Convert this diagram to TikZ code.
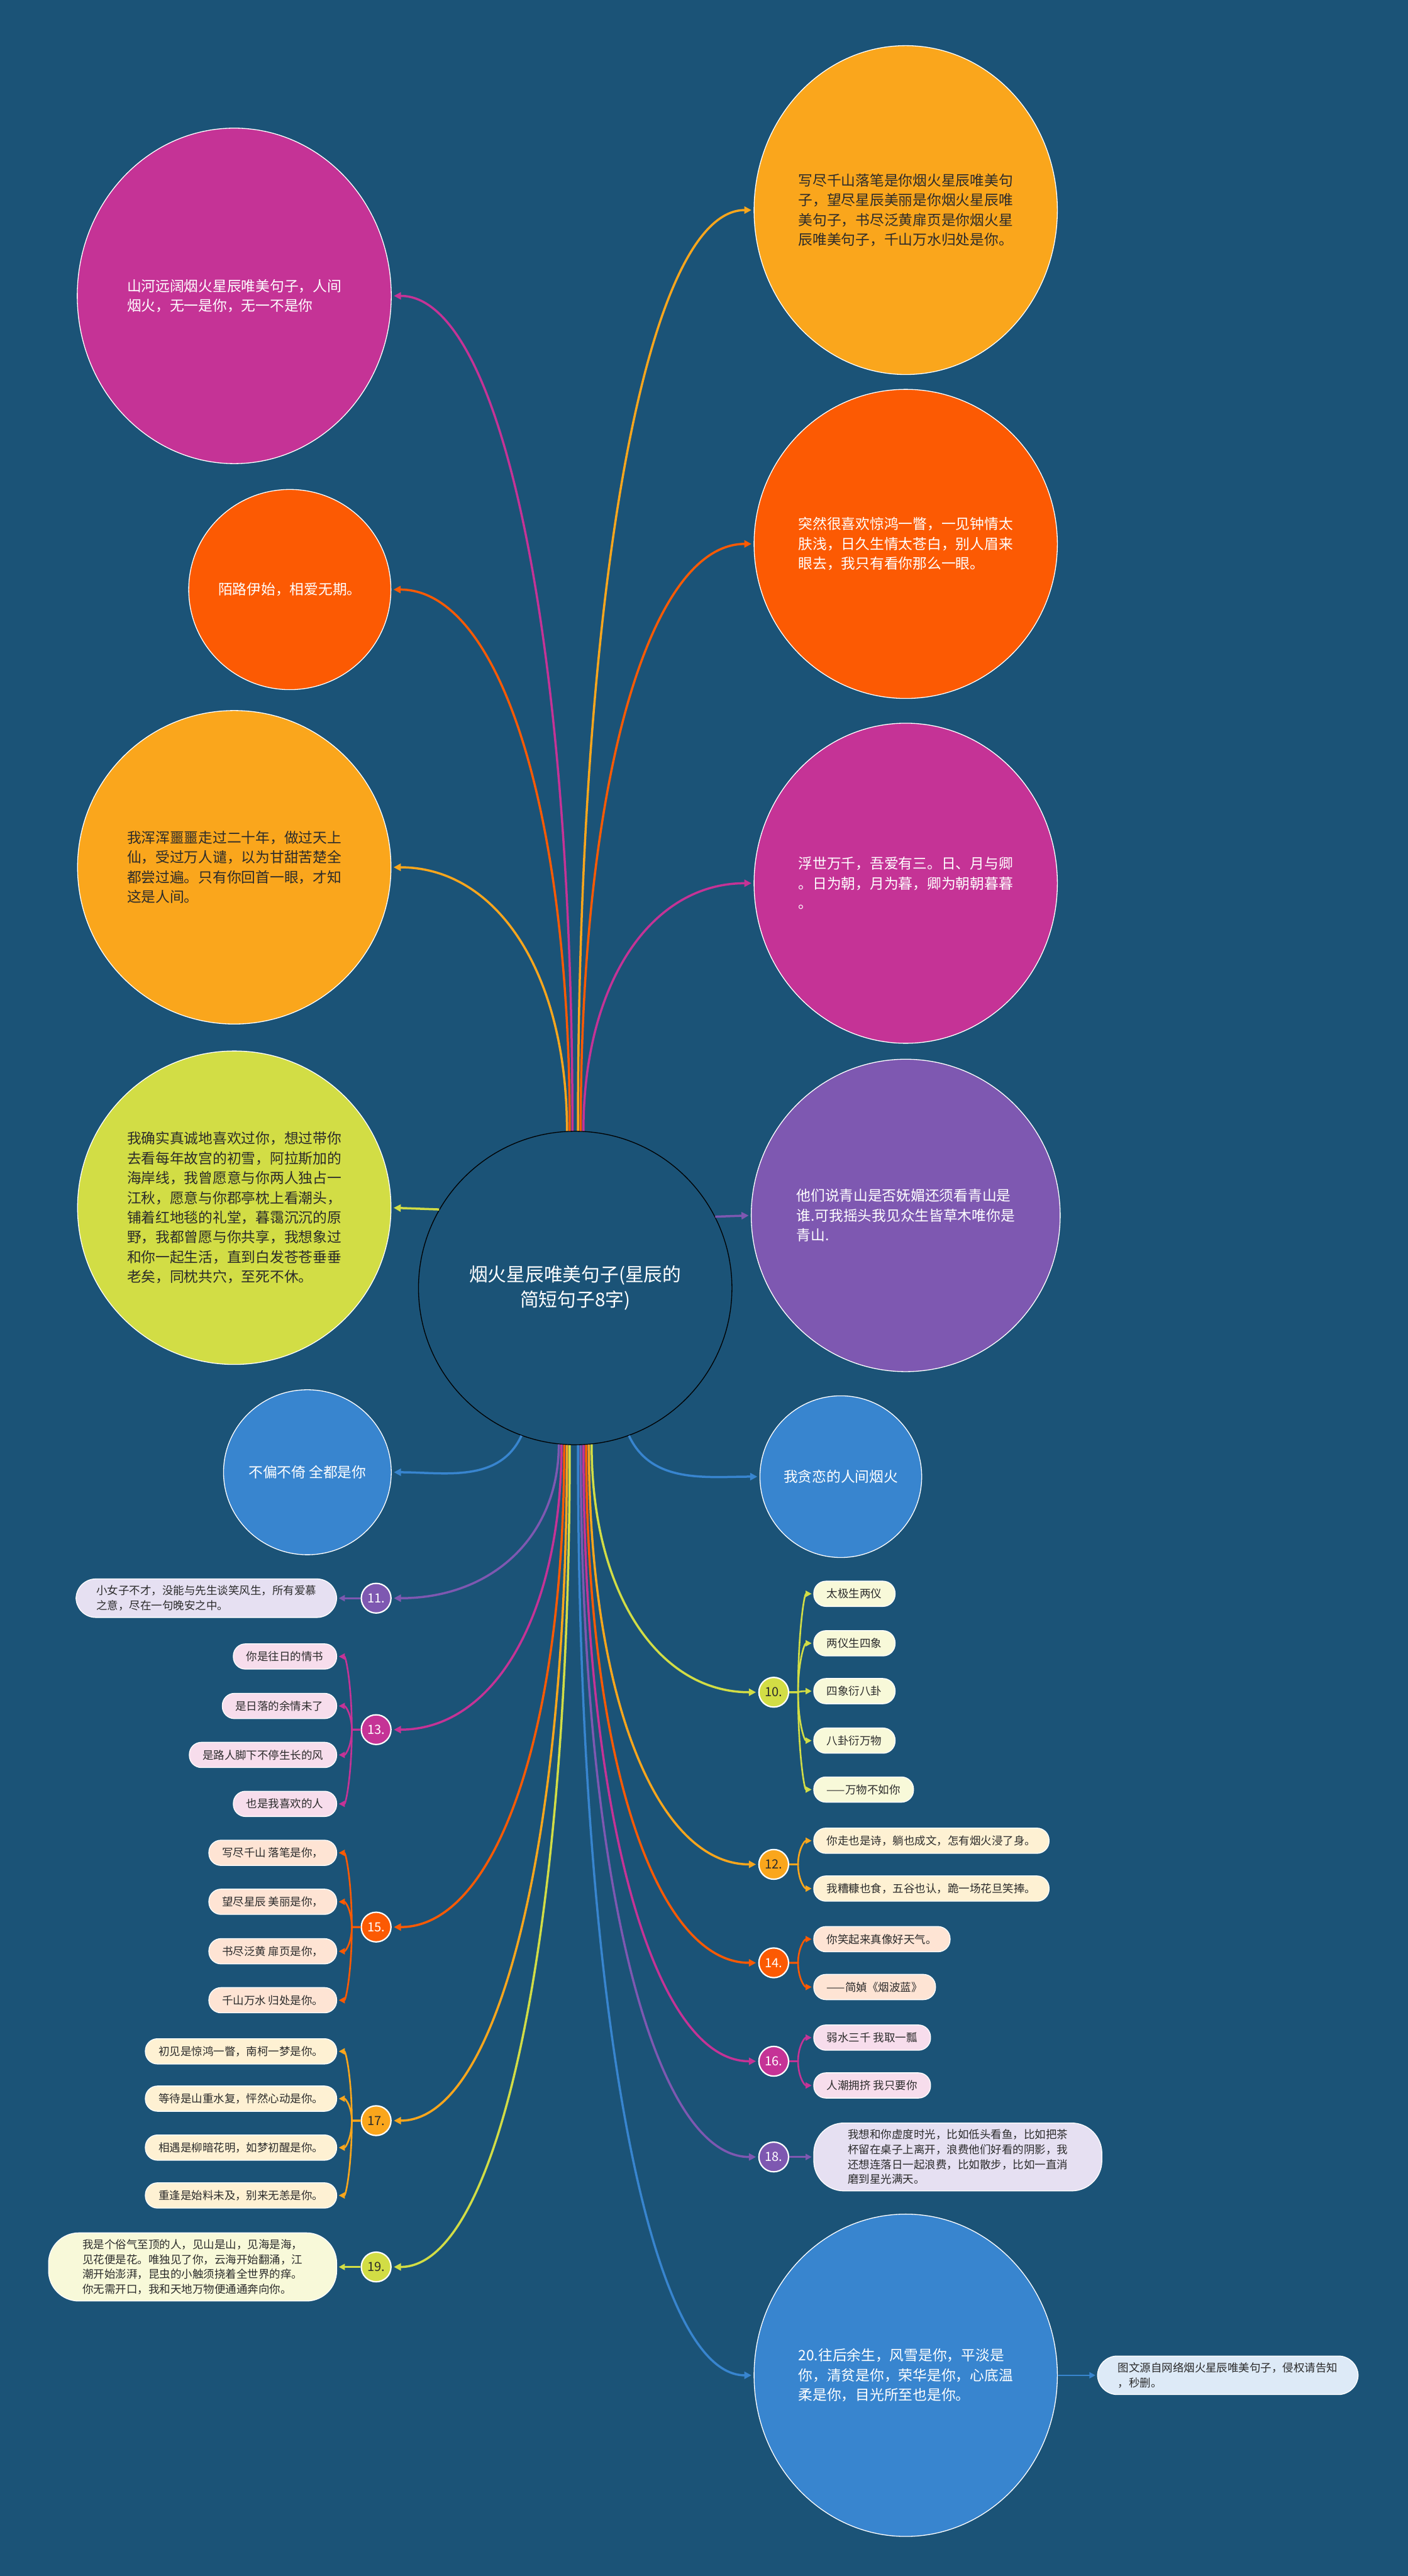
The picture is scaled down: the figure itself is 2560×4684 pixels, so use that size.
\documentclass[tikz,border=0pt]{standalone}
\usepackage{fontspec}
\setmainfont{Noto Sans CJK SC}
\usetikzlibrary{shapes.geometric,arrows.meta,calc}
\definecolor{bg}{HTML}{1B5377}
\definecolor{mag}{HTML}{C53396}
\definecolor{yel}{HTML}{FAA61C}
\definecolor{org}{HTML}{FC5A03}
\definecolor{lim}{HTML}{D2DD45}
\definecolor{pur}{HTML}{7E58B1}
\definecolor{blu}{HTML}{3885CF}
\definecolor{dk}{HTML}{2B2B2B}
\definecolor{lpur}{HTML}{E6E0F2}
\definecolor{lmag}{HTML}{F7DDEC}
\definecolor{lorg}{HTML}{FEE4D4}
\definecolor{lyel}{HTML}{FEF1D3}
\definecolor{llim}{HTML}{F8F9D9}
\definecolor{lblu}{HTML}{DDEAF7}
\newcommand\myelbow[3]{\draw[#1] (#2) .. controls ($(#2)!0.6!(#2 |- #3)$) and ($(#3)!0.6!(#2 |- #3)$) .. (#3);}
\newcommand\mysub[4]{\draw[sub=#1] (#2) -- (#3) .. controls ($(#3)!0.6!(#3 |- #4)$) and ($(#4)!0.6!(#3 |- #4)$) .. (#4);}
\begin{document}
\begin{tikzpicture}[x=1pt,y=1pt,
 big/.style={ellipse, draw=white, line width=1.5pt, inner sep=0pt, align=left, font=\fontsize{26}{36}\selectfont},
 num/.style={circle, draw=white, line width=2.5pt, minimum size=54pt, inner sep=0pt, font=\fontsize{23}{23}\selectfont},
 leaf/.style={rectangle, rounded corners=22pt, draw=white, line width=1.5pt, inner xsep=24pt, inner ysep=12pt, minimum height=46pt, align=left, text=dk, font=\fontsize{20}{27}\selectfont},
 leaf2/.style={leaf, rounded corners=36pt, inner xsep=37pt},
 leaf4/.style={leaf, rounded corners=55pt, inner xsep=62pt},
 conn/.style={draw=#1, line width=4pt, -{Triangle[length=13pt,width=13pt]}, shorten >=4pt},
 sub/.style={draw=#1, line width=3pt, -{Triangle[length=11pt,width=11pt]}, shorten >=3pt},
]
\useasboundingbox (0,0) rectangle (2560,-4684);
\fill[bg] (0,0) rectangle (2560,-4684);

% centre
\node[circle, draw=black, fill=bg, line width=1.5pt, minimum size=570pt, inner sep=0pt, text=white, align=center, font=\fontsize{34}{46}\selectfont] (ctr) at (1046,-2342) {烟火星辰唯美句子(星辰的\\简短句子8字)};

% big circles left
\node[big, fill=mag, text=white, minimum width=571pt, minimum height=610pt] (A) at (426,-538) {山河远阔烟火星辰唯美句子，人间\\烟火，无一是你，无一不是你};
\node[big, fill=org, text=white, minimum width=362pt, minimum height=364pt] (B) at (527,-1072) {陌路伊始，相爱无期。};
\node[big, fill=yel, text=dk, minimum width=570pt, minimum height=570pt] (C) at (426,-1577) {我浑浑噩噩走过二十年，做过天上\\仙，受过万人谴，以为甘甜苦楚全\\都尝过遍。只有你回首一眼，才知\\这是人间。};
\node[big, fill=lim, text=dk, minimum width=570pt, minimum height=570pt] (D) at (426,-2196) {我确实真诚地喜欢过你，想过带你\\去看每年故宫的初雪，阿拉斯加的\\海岸线，我曾愿意与你两人独占一\\江秋，愿意与你郡亭枕上看潮头，\\铺着红地毯的礼堂，暮霭沉沉的原\\野，我都曾愿与你共享，我想象过\\和你一起生活，直到白发苍苍垂垂\\老矣，同枕共穴，至死不休。};
\node[big, fill=blu, text=white, minimum width=305pt, minimum height=300pt] (E) at (559,-2677) {不偏不倚 全都是你};

% big circles right
\node[big, fill=yel, text=dk, minimum width=530pt, minimum height=598pt] (F) at (1647,-382) {写尽千山落笔是你烟火星辰唯美句\\子，望尽星辰美丽是你烟火星辰唯\\美句子，书尽泛黄扉页是你烟火星\\辰唯美句子，千山万水归处是你。};
\node[big, fill=org, text=white, minimum width=530pt, minimum height=562pt] (G) at (1647,-989) {突然很喜欢惊鸿一瞥，一见钟情太\\肤浅，日久生情太苍白，别人眉来\\眼去，我只有看你那么一眼。};
\node[big, fill=mag, text=white, minimum width=530pt, minimum height=582pt] (H) at (1647,-1606) {浮世万千，吾爱有三。日、月与卿\\。日为朝，月为暮，卿为朝朝暮暮\\。};
\node[big, fill=pur, text=white, minimum width=530pt, minimum height=568pt] (I) at (1647,-2210) {他们说青山是否妩媚还须看青山是\\谁.可我摇头我见众生皆草木唯你是\\青山.};
\node[big, fill=blu, text=white, minimum width=294pt, minimum height=294pt] (J) at (1529,-2685) {我贪恋的人间烟火};
\node[big, fill=blu, text=white, minimum width=530pt, minimum height=586pt] (K) at (1647,-4319) {20.往后余生，风雪是你，平淡是\\你，清贫是你，荣华是你，心底温\\柔是你，目光所至也是你。};

% numbered circles
\node[num, fill=pur, text=white] (n11) at (684,-2906) {11.};
\node[num, fill=mag, text=white] (n13) at (684,-3145) {13.};
\node[num, fill=org, text=white] (n15) at (684,-3504) {15.};
\node[num, fill=yel, text=dk] (n17) at (684,-3856) {17.};
\node[num, fill=lim, text=dk] (n19) at (684,-4122) {19.};
\node[num, fill=lim, text=dk] (n10) at (1407,-3077) {10.};
\node[num, fill=yel, text=dk] (n12) at (1407,-3390) {12.};
\node[num, fill=org, text=white] (n14) at (1407,-3569) {14.};
\node[num, fill=mag, text=white] (n16) at (1407,-3748) {16.};
\node[num, fill=pur, text=white] (n18) at (1407,-3922) {18.};

% leaves left
\node[leaf2, fill=lpur, anchor=east] (c11) at (613,-2906) {小女子不才，没能与先生谈笑风生，所有爱慕\\之意，尽在一句晚安之中。};
\node[leaf, fill=lmag, anchor=east] (c13a) at (613,-3012) {你是往日的情书};
\node[leaf, fill=lmag, anchor=east] (c13b) at (613,-3102) {是日落的余情未了};
\node[leaf, fill=lmag, anchor=east] (c13c) at (613,-3191) {是路人脚下不停生长的风};
\node[leaf, fill=lmag, anchor=east] (c13d) at (613,-3280) {也是我喜欢的人};
\node[leaf, fill=lorg, anchor=east] (c15a) at (613,-3369) {写尽千山 落笔是你，};
\node[leaf, fill=lorg, anchor=east] (c15b) at (613,-3458) {望尽星辰 美丽是你，};
\node[leaf, fill=lorg, anchor=east] (c15c) at (613,-3548) {书尽泛黄 扉页是你，};
\node[leaf, fill=lorg, anchor=east] (c15d) at (613,-3637) {千山万水 归处是你。};
\node[leaf, fill=lyel, anchor=east] (c17a) at (613,-3730) {初见是惊鸿一瞥，南柯一梦是你。};
\node[leaf, fill=lyel, anchor=east] (c17b) at (613,-3816) {等待是山重水复，怦然心动是你。};
\node[leaf, fill=lyel, anchor=east] (c17c) at (613,-3905) {相遇是柳暗花明，如梦初醒是你。};
\node[leaf, fill=lyel, anchor=east] (c17d) at (613,-3992) {重逢是始料未及，别来无恙是你。};
\node[leaf4, fill=llim, anchor=east] (c19) at (613,-4122) {我是个俗气至顶的人，见山是山，见海是海，\\见花便是花。唯独见了你，云海开始翻涌，江\\潮开始澎湃，昆虫的小触须挠着全世界的痒。\\你无需开口，我和天地万物便通通奔向你。};

% leaves right
\node[leaf, fill=llim, anchor=west] (c10a) at (1479,-2898) {太极生两仪};
\node[leaf, fill=llim, anchor=west] (c10b) at (1479,-2988) {两仪生四象};
\node[leaf, fill=llim, anchor=west] (c10c) at (1479,-3075) {四象衍八卦};
\node[leaf, fill=llim, anchor=west] (c10d) at (1479,-3165) {八卦衍万物};
\node[leaf, fill=llim, anchor=west] (c10e) at (1479,-3254) {——万物不如你};
\node[leaf, fill=lyel, anchor=west] (c12a) at (1479,-3347) {你走也是诗，躺也成文，怎有烟火浸了身。};
\node[leaf, fill=lyel, anchor=west] (c12b) at (1479,-3434) {我糟糠也食，五谷也认，跪一场花旦笑捧。};
\node[leaf, fill=lorg, anchor=west] (c14a) at (1479,-3526) {你笑起来真像好天气。};
\node[leaf, fill=lorg, anchor=west] (c14b) at (1479,-3613) {——简媜《烟波蓝》};
\node[leaf, fill=lmag, anchor=west] (c16a) at (1479,-3705) {弱水三千 我取一瓢};
\node[leaf, fill=lmag, anchor=west] (c16b) at (1479,-3792) {人潮拥挤 我只要你};
\node[leaf4, fill=lpur, anchor=west] (c18) at (1479,-3922) {我想和你虚度时光，比如低头看鱼，比如把茶\\杯留在桌子上离开，浪费他们好看的阴影，我\\还想连落日一起浪费，比如散步，比如一直消\\磨到星光满天。};
\node[leaf2, fill=lblu, anchor=west] (cK) at (1995,-4319) {图文源自网络烟火星辰唯美句子，侵权请告知\\，秒删。};

% top fan
\myelbow{conn=yel}{ctr.93}{C.east}
\myelbow{conn=org}{ctr.92}{B.east}
\myelbow{conn=mag}{ctr.91}{A.east}
\myelbow{conn=yel}{ctr.89}{F.west}
\myelbow{conn=org}{ctr.88}{G.west}
\myelbow{conn=mag}{ctr.87}{H.west}
% sides
\draw[conn=lim] (ctr.150) -- (D.east);
\draw[conn=pur] (ctr.27) -- (I.west);
\draw[conn=blu] (ctr.250) to[out=245,in=0] (E.east);
\draw[conn=blu] (ctr.290) to[out=295,in=180] (J.west);
% bottom fan
\myelbow{conn=pur}{ctr.264}{n11.east}
\myelbow{conn=mag}{ctr.265}{n13.east}
\myelbow{conn=org}{ctr.266}{n15.east}
\myelbow{conn=yel}{ctr.267}{n17.east}
\myelbow{conn=lim}{ctr.268}{n19.east}
\myelbow{conn=blu}{ctr.271}{K.west}
\myelbow{conn=pur}{ctr.272}{n18.west}
\myelbow{conn=mag}{ctr.273}{n16.west}
\myelbow{conn=org}{ctr.274}{n14.west}
\myelbow{conn=yel}{ctr.275}{n12.west}
\myelbow{conn=lim}{ctr.276}{n10.west}

% bars
\coordinate (b13) at ($(n13.west)+(-16,0)$);
\coordinate (b15) at ($(n15.west)+(-16,0)$);
\coordinate (b17) at ($(n17.west)+(-16,0)$);
\coordinate (b10) at ($(n10.east)+(16,0)$);
\coordinate (b12) at ($(n12.east)+(16,0)$);
\coordinate (b14) at ($(n14.east)+(16,0)$);
\coordinate (b16) at ($(n16.east)+(16,0)$);

\draw[sub=pur] (n11.west) -- (c11.east);
\mysub{mag}{n13.west}{b13}{c13a.east}
\mysub{mag}{n13.west}{b13}{c13b.east}
\mysub{mag}{n13.west}{b13}{c13c.east}
\mysub{mag}{n13.west}{b13}{c13d.east}
\mysub{org}{n15.west}{b15}{c15a.east}
\mysub{org}{n15.west}{b15}{c15b.east}
\mysub{org}{n15.west}{b15}{c15c.east}
\mysub{org}{n15.west}{b15}{c15d.east}
\mysub{yel}{n17.west}{b17}{c17a.east}
\mysub{yel}{n17.west}{b17}{c17b.east}
\mysub{yel}{n17.west}{b17}{c17c.east}
\mysub{yel}{n17.west}{b17}{c17d.east}
\draw[sub=lim] (n19.west) -- (c19.east);

\mysub{lim}{n10.east}{b10}{c10a.west}
\mysub{lim}{n10.east}{b10}{c10b.west}
\mysub{lim}{n10.east}{b10}{c10c.west}
\mysub{lim}{n10.east}{b10}{c10d.west}
\mysub{lim}{n10.east}{b10}{c10e.west}
\mysub{yel}{n12.east}{b12}{c12a.west}
\mysub{yel}{n12.east}{b12}{c12b.west}
\mysub{org}{n14.east}{b14}{c14a.west}
\mysub{org}{n14.east}{b14}{c14b.west}
\mysub{mag}{n16.east}{b16}{c16a.west}
\mysub{mag}{n16.east}{b16}{c16b.west}
\draw[sub=pur] (n18.east) -- (c18.west);
\draw[sub=blu] (K.east) -- (cK.west);
\end{tikzpicture}
\end{document}
